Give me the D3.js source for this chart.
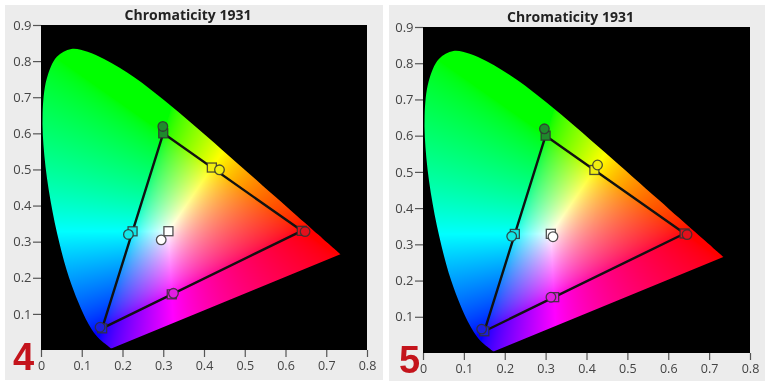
<!DOCTYPE html>
<html>
<head>
<meta charset="utf-8">
<script src="https://cdn.jsdelivr.net/npm/d3@7"></script>
<style>
  body { margin: 0; background: #fff; }
  #wrap { position: relative; width: 770px; height: 387px; }
  #wrap canvas, #wrap svg { position: absolute; left: 0; top: 0; }
</style>
</head>
<body>
<div id="wrap">
  <canvas id="cv" width="770" height="387"></canvas>
  <svg id="sv" width="770" height="387"></svg>
</div>
<script>
// CIE 1931 2deg spectral locus, 380..700 nm every 5 nm
const locusX = [0.1741,0.1740,0.1738,0.1736,0.1733,0.1730,0.1726,0.1721,0.1714,0.1703,0.1689,0.1669,0.1644,0.1611,0.1566,0.1510,0.1440,0.1355,0.1241,0.1096,0.0913,0.0687,0.0454,0.0235,0.0082,0.0039,0.0139,0.0389,0.0743,0.1142,0.1547,0.1929,0.2296,0.2658,0.3016,0.3373,0.3731,0.4087,0.4441,0.4788,0.5125,0.5448,0.5752,0.6029,0.6270,0.6482,0.6658,0.6801,0.6915,0.7006,0.7079,0.7140,0.7190,0.7230,0.7260,0.7283,0.7300,0.7311,0.7320,0.7327,0.7334,0.7340,0.7344,0.7346,0.7347];
const locusY = [0.0050,0.0050,0.0049,0.0049,0.0048,0.0048,0.0048,0.0048,0.0051,0.0058,0.0069,0.0086,0.0109,0.0138,0.0177,0.0227,0.0297,0.0399,0.0578,0.0868,0.1327,0.2007,0.2950,0.4127,0.5384,0.6548,0.7502,0.8120,0.8338,0.8262,0.8059,0.7816,0.7543,0.7243,0.6923,0.6589,0.6245,0.5896,0.5547,0.5202,0.4866,0.4544,0.4242,0.3965,0.3725,0.3514,0.3340,0.3197,0.3083,0.2993,0.2920,0.2859,0.2809,0.2770,0.2740,0.2717,0.2700,0.2689,0.2680,0.2673,0.2666,0.2660,0.2656,0.2654,0.2653];

// patches: targets (squares) and measured (circles) for each panel
const patches = ['Red', 'Green', 'Blue', 'Cyan', 'Magenta', 'Yellow', 'White'];
const patchColors = ['#e3101c', '#1f8a2c', '#1a1ee0', '#12e8e8', '#e21ee2', '#f0ee10', '#ffffff'];
const targetX = [0.64, 0.30, 0.15, 0.2247, 0.3209, 0.4193, 0.3127];
const targetY = [0.33, 0.60, 0.06, 0.3287, 0.1542, 0.5053, 0.3290];
const meas4X = [0.648, 0.299, 0.145, 0.2145, 0.325, 0.438, 0.295];
const meas4Y = [0.328, 0.619, 0.063, 0.320, 0.157, 0.499, 0.305];
const meas5X = [0.646, 0.297, 0.1435, 0.217, 0.313, 0.427, 0.318];
const meas5Y = [0.327, 0.619, 0.066, 0.322, 0.154, 0.519, 0.321];

// gamut triangle (red, green, blue primaries)
const triX = [0.64, 0.30, 0.15];
const triY = [0.33, 0.60, 0.06];

const xTicks = [0, 0.1, 0.2, 0.3, 0.4, 0.5, 0.6, 0.7, 0.8];
const yTicks = [0.1, 0.2, 0.3, 0.4, 0.5, 0.6, 0.7, 0.8, 0.9];
const panelLabels = ['4', '5'];

const panels = [
  {box: [5, 5, 378, 375], plot: [41, 25, 326, 325], mx: meas4X, my: meas4Y, lab: [13, 370]},
  {box: [389, 5, 376, 376], plot: [423, 27, 327, 326], mx: meas5X, my: meas5Y, lab: [399, 373]}
];

const ctx = document.getElementById('cv').getContext('2d');
const svg = d3.select('#sv');
const fmt = d => d === 0 ? '0' : d3.format('.1f')(d);

ctx.fillStyle = '#fff';
ctx.fillRect(0, 0, 770, 387);

function xyToRGB(cx, cy) {
  const X = cx / cy, Y = 1, Z = (1 - cx - cy) / cy;
  let r = 3.2406 * X - 1.5372 * Y - 0.4986 * Z;
  let g = -0.9689 * X + 1.8758 * Y + 0.0415 * Z;
  let b = 0.0557 * X - 0.2040 * Y + 1.0570 * Z;
  r = Math.max(r, 0); g = Math.max(g, 0); b = Math.max(b, 0);
  const m = Math.max(r, g, b) || 1;
  const gam = v => Math.round(Math.min(1, Math.pow(v / m, 0.62)) * 255);
  return [gam(r), gam(g), gam(b)];
}

function gamutImage(x, y, w, h) {
  const off = document.createElement('canvas');
  off.width = w; off.height = h;
  const octx = off.getContext('2d');
  const img = octx.createImageData(w, h);
  for (let j = 0; j < h; j++) {
    const cy = y.invert(j + 0.5);
    for (let i = 0; i < w; i++) {
      const cx = x.invert(i + 0.5);
      const k = (j * w + i) * 4;
      img.data[k + 3] = 255;
      if (cy <= 0.001) continue;
      const c = xyToRGB(cx, cy);
      img.data[k] = c[0]; img.data[k + 1] = c[1]; img.data[k + 2] = c[2];
    }
  }
  octx.putImageData(img, 0, 0);
  return off;
}

panels.forEach((p, pi) => {
  const [bx, by, bw, bh] = p.box;
  const [px, py, pw, ph] = p.plot;

  const x = d3.scaleLinear().domain([0, 0.8]).range([0, pw]);
  const y = d3.scaleLinear().domain([0, 0.9]).range([ph, 0]);

  // panel + plot background
  ctx.fillStyle = '#ececec';
  ctx.fillRect(bx, by, bw, bh);
  ctx.fillStyle = '#000';
  ctx.fillRect(px, py, pw, ph);

  // horseshoe filled with chromaticity colours
  const locus = locusX.map((v, i) => [v, locusY[i]]);
  ctx.save();
  ctx.translate(px, py);
  ctx.beginPath();
  d3.line().x(d => x(d[0])).y(d => y(d[1])).curve(d3.curveCatmullRom).context(ctx)(locus);
  ctx.closePath();
  ctx.clip();
  ctx.drawImage(gamutImage(x, y, pw, ph), 0, 0);
  ctx.restore();

  const g = svg.append('g').attr('transform', `translate(${px},${py})`);

  // triangle
  const tri = triX.map((v, i) => [v, triY[i]]);
  g.append('path')
    .attr('d', d3.line().x(d => x(d[0])).y(d => y(d[1]))(tri) + 'Z')
    .attr('fill', 'none')
    .attr('stroke', '#111')
    .attr('stroke-width', 2.4)
    .attr('stroke-linejoin', 'round');

  // target squares
  g.selectAll('rect.target')
    .data(patches)
    .enter()
    .append('rect')
    .classed('target', true)
    .attr('x', (d, i) => x(targetX[i]) - 4.5)
    .attr('y', (d, i) => y(targetY[i]) - 4.5)
    .attr('width', 9)
    .attr('height', 9)
    .attr('fill', (d, i) => patchColors[i])
    .attr('stroke', '#333')
    .attr('stroke-opacity', 0.85)
    .attr('stroke-width', 1.3);

  // measured circles
  g.selectAll('circle.meas')
    .data(patches)
    .enter()
    .append('circle')
    .classed('meas', true)
    .attr('cx', (d, i) => x(p.mx[i]))
    .attr('cy', (d, i) => y(p.my[i]))
    .attr('r', 4.8)
    .attr('fill', (d, i) => patchColors[i])
    .attr('stroke', '#333')
    .attr('stroke-opacity', 0.85)
    .attr('stroke-width', 1.3);

  // axes
  const ax = g.append('g')
    .attr('transform', `translate(0,${ph})`)
    .call(d3.axisBottom(x).tickValues(xTicks).tickFormat(fmt).tickSize(7).tickPadding(4));
  const ay = g.append('g')
    .call(d3.axisLeft(y).tickValues(yTicks).tickFormat(fmt).tickSize(8).tickPadding(1.5));
  [ax, ay].forEach(a => {
    a.select('.domain').remove();
    a.selectAll('line').attr('stroke', '#555').attr('stroke-width', 1.2);
    a.selectAll('text').attr('fill', '#444').style('font-family', '"Open Sans", sans-serif');
  });
  ax.selectAll('text').style('font-size', '12.5px');
  ay.selectAll('text').style('font-size', '13px');

  // title
  svg.append('text')
    .attr('x', px + pw / 2 - 16)
    .attr('y', py - 5)
    .attr('text-anchor', 'middle')
    .style('font-family', '"Open Sans", sans-serif')
    .style('font-weight', 'bold')
    .style('font-size', '14px')
    .attr('fill', '#222')
    .text('Chromaticity 1931');

  // panel number
  svg.append('text')
    .attr('x', p.lab[0])
    .attr('y', p.lab[1])
    .style('font-family', '"Liberation Sans", Arial, sans-serif')
    .style('font-weight', 'bold')
    .style('font-size', '38px')
    .attr('fill', '#c4141c')
    .text(panelLabels[pi]);
});
</script>
</body>
</html>
